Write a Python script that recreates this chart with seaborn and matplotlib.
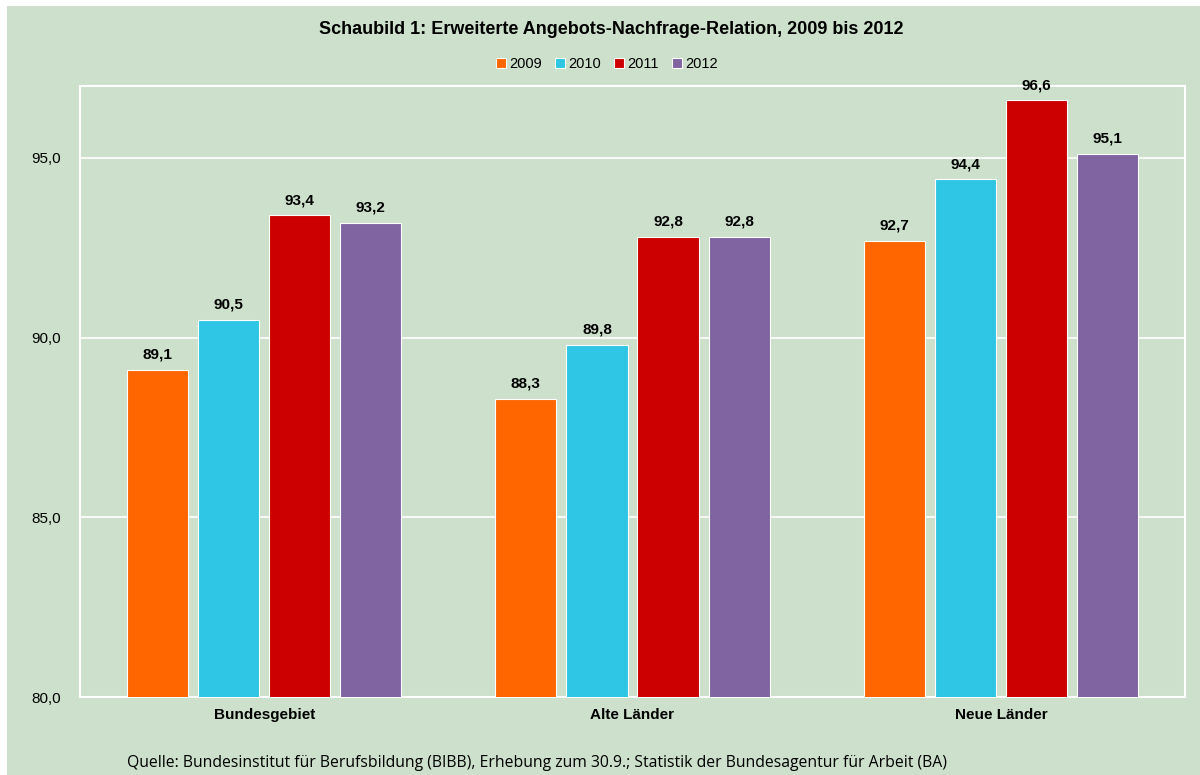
import pandas as pd
import matplotlib.pyplot as plt
import seaborn as sns
from matplotlib.patches import Rectangle
from matplotlib.ticker import FuncFormatter

regions = ['Bundesgebiet', 'Alte Länder', 'Neue Länder']
years = ['2009', '2010', '2011', '2012']
v2009 = [89.1, 88.3, 92.7]
v2010 = [90.5, 89.8, 94.4]
v2011 = [93.4, 92.8, 96.6]
v2012 = [93.2, 92.8, 95.1]
colors = ['#FF6600', '#2EC6E4', '#CC0000', '#8064A2']
bg = '#CCE0CB'

rows = []
for y, vals in zip(years, [v2009, v2010, v2011, v2012]):
    for r, v in zip(regions, vals):
        rows.append({'Region': r, 'Jahr': y, 'Wert': v})
data = pd.DataFrame(rows)

sns.set_style('white')
plt.rcParams['font.family'] = ['Liberation Sans', 'DejaVu Sans']
plt.rcParams['text.color'] = 'black'
plt.rcParams['xtick.color'] = 'black'
plt.rcParams['ytick.color'] = 'black'

fig = plt.figure(figsize=(12, 7.75), dpi=100)
fig.patch.set_facecolor('white')
fig.add_artist(Rectangle((7 / 1200, 0), 1, (775 - 6) / 775, transform=fig.transFigure,
                         facecolor=bg, edgecolor='none', zorder=-5))

ax = fig.add_axes([80 / 1200, 1 - 697 / 775, 1105 / 1200, (697 - 86) / 775])
ax.set_facecolor(bg)

sns.barplot(data=data, x='Region', y='Wert', hue='Jahr', palette=colors,
            width=0.772, ax=ax, legend=True, edgecolor='white', linewidth=0.8,
            saturation=1, zorder=3)

# shrink bars so they get a little gap between them
for p in ax.patches:
    if p.get_height() > 0 and p.get_width() > 0.1:
        cx = p.get_x() + p.get_width() / 2
        p.set_width(0.166)
        p.set_x(cx - 0.083)

ax.set_ylim(80, 97)
ax.set_yticks([80, 85, 90, 95])
ax.yaxis.set_major_formatter(FuncFormatter(lambda v, _: f'{v:.1f}'.replace('.', ',')))
ax.grid(axis='y', color='white', linewidth=1.2, zorder=0)
ax.set_axisbelow(True)
for s in ax.spines.values():
    s.set_color('white')
    s.set_linewidth(1.5)
ax.tick_params(axis='y', length=0, labelsize=11, pad=14)
ax.tick_params(axis='x', length=0, labelsize=11, pad=8)
for lbl in ax.get_xticklabels():
    lbl.set_fontweight('bold')
ax.set_xlabel('')
ax.set_ylabel('')

for c in ax.containers:
    labels = [f'{v:.1f}'.replace('.', ',') for v in c.datavalues]
    ax.bar_label(c, labels=labels, padding=6, fontsize=11, fontweight='bold')

h, l = ax.get_legend_handles_labels()
ax.get_legend().remove()
fig.legend(h, l, loc='center', bbox_to_anchor=(607 / 1200, 1 - 64 / 775), ncol=4, frameon=False,
           fontsize=10.5, handlelength=0.7, handleheight=0.7, handletextpad=0.2,
           columnspacing=0.9)

fig.text(611 / 1200, 1 - 30 / 775, 'Schaubild 1: Erweiterte Angebots-Nachfrage-Relation, 2009 bis 2012',
         ha='center', va='center', fontsize=13, fontweight='bold')
fig.text(127 / 1200, 1 - 763 / 775,
         'Quelle: Bundesinstitut für Berufsbildung (BIBB), Erhebung zum 30.9.; Statistik der Bundesagentur für Arbeit (BA)',
         ha='left', va='center', fontsize=11.3, family=['Open Sans', 'DejaVu Sans'])

fig.savefig('out.png', dpi=100, facecolor='white')
